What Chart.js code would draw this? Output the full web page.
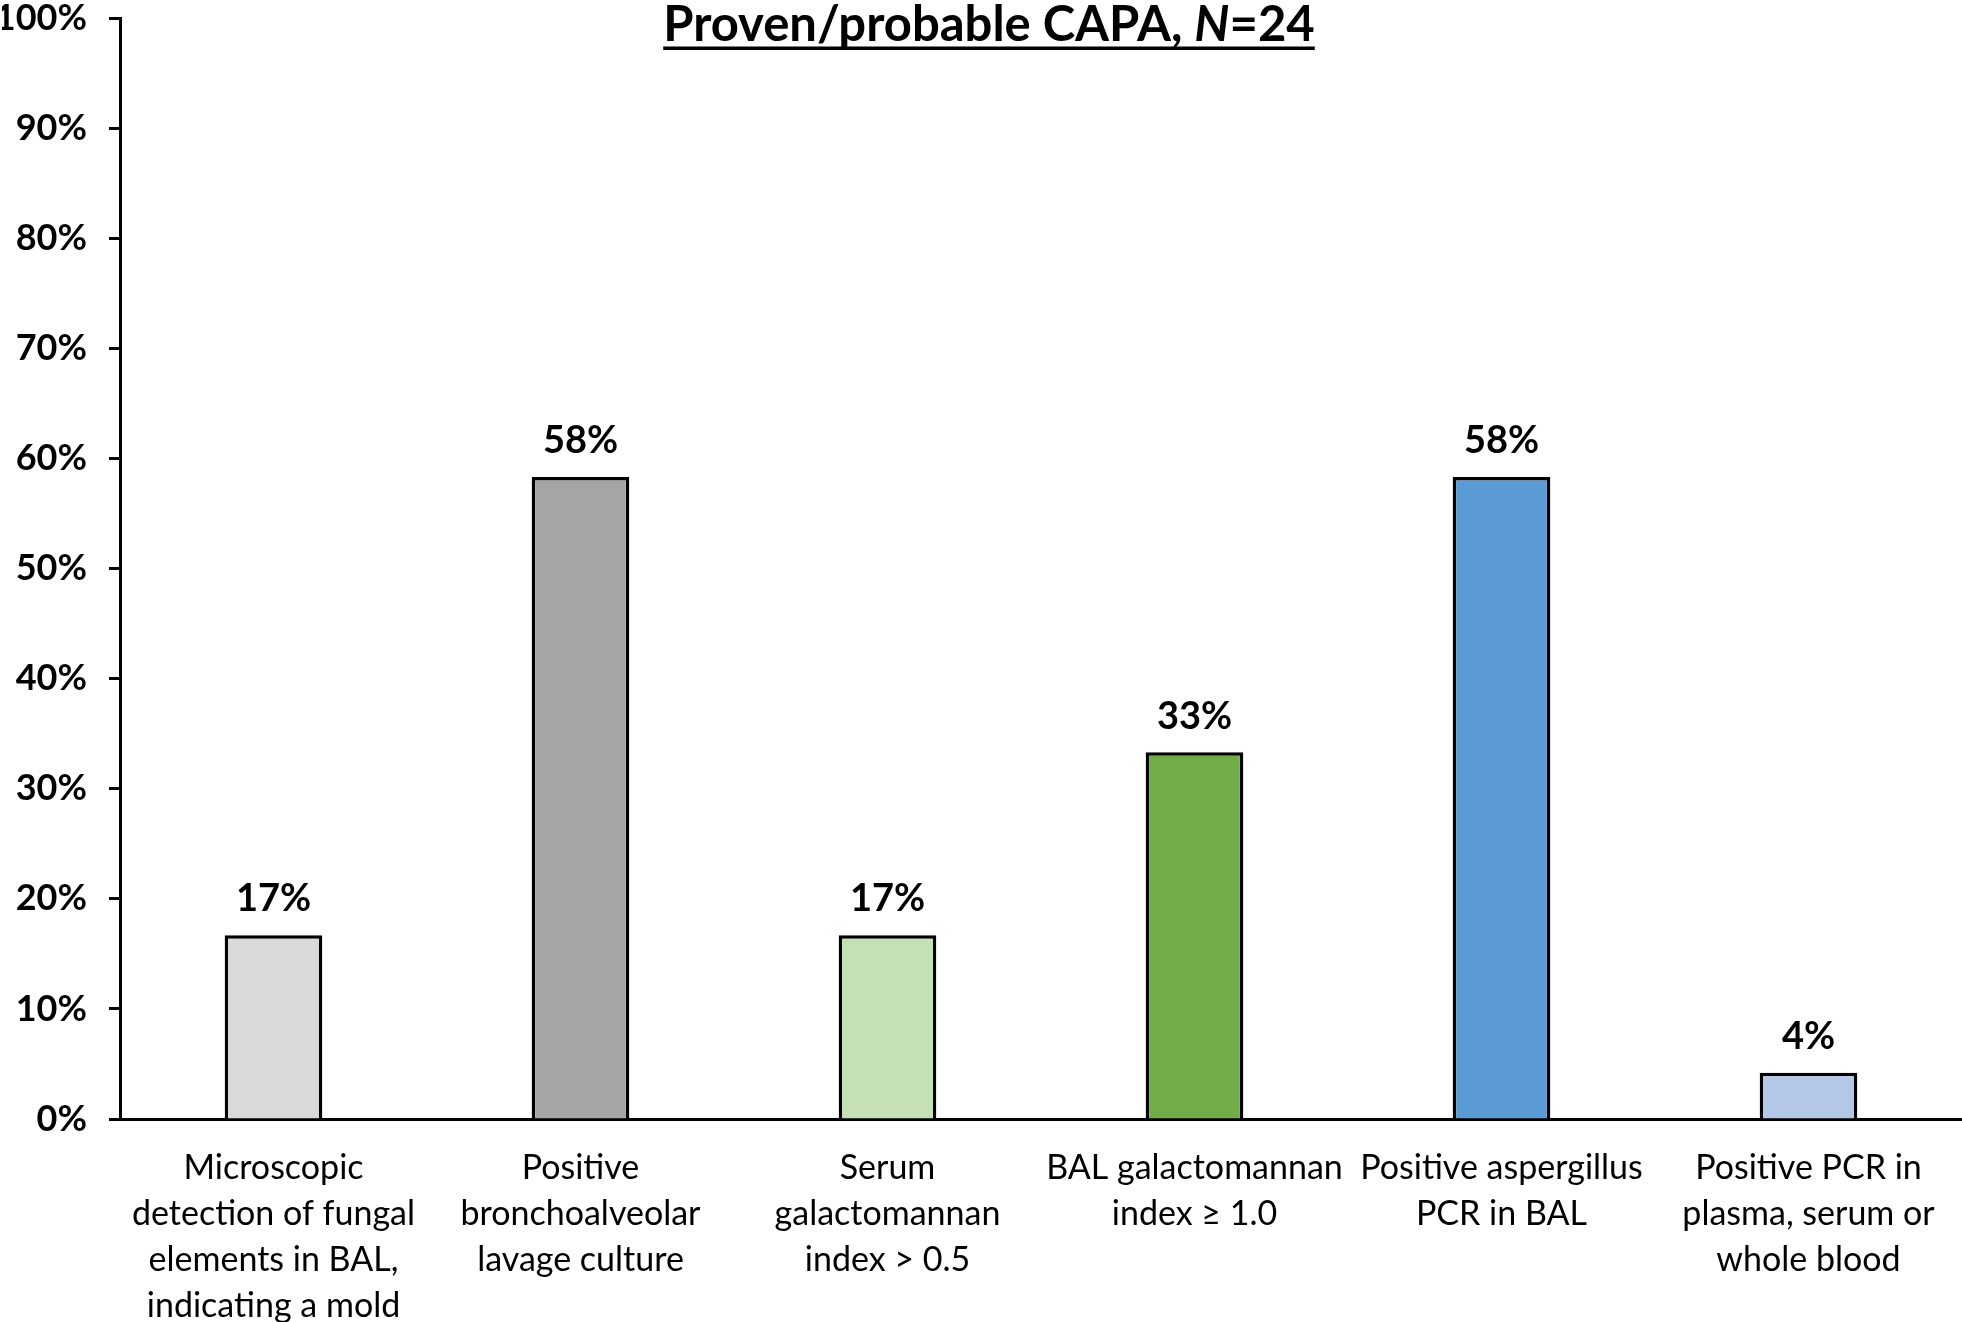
<!DOCTYPE html>
<html>
<head>
<meta charset="utf-8">
<script src="https://cdn.jsdelivr.net/npm/chart.js@4.4.1/dist/chart.umd.min.js"></script>
<style>
	html, body { margin: 0; padding: 0; background: #fff; }
	#wrap { width: 1962px; height: 1322px; }
</style>
</head>
<body>
<div id="wrap"><canvas id="chart"></canvas></div>
<script>
const categories = [
	["Microscopic", "detection of fungal", "elements in BAL,", "indicating a mold"],
	["Positive", "bronchoalveolar", "lavage culture"],
	["Serum", "galactomannan", "index > 0.5"],
	["BAL galactomannan", "index \u2265 1.0"],
	["Positive aspergillus", "PCR in BAL"],
	["Positive PCR in", "plasma, serum or", "whole blood"],
];
const values = [16.7, 58.3, 16.7, 33.3, 58.3, 4.2];
const valueLabels = ["17%", "58%", "17%", "33%", "58%", "4%"];
const barColors = ["#D9D9D9", "#A5A5A5", "#C5E0B4", "#70AD47", "#5B9BD5", "#B4C7E7"];
const yMin = 0;
const yMax = 100;
const yStep = 10;

const FONT = "Lato, 'Open Sans', sans-serif";

// value labels over each bar
const barLabels = {
	id: "barLabels",
	afterDatasetsDraw(chart) {
		const ctx = chart.ctx;
		const meta = chart.getDatasetMeta(0);
		ctx.save();
		ctx.font = `bold 38px ${FONT}`;
		ctx.fillStyle = "#000";
		ctx.textAlign = "center";
		ctx.textBaseline = "middle";
		meta.data.forEach((bar, i) => {
			ctx.fillText(valueLabels[i], bar.x, bar.y - 36);
		});
		ctx.restore();
	},
};

// underlined title with italic N
const titlePlugin = {
	id: "titlePlugin",
	afterDraw(chart) {
		const ctx = chart.ctx;
		const parts = [
			{ text: "Proven/probable CAPA, ", font: `bold 49px ${FONT}` },
			{ text: "N", font: `italic bold 49px ${FONT}` },
			{ text: "=24", font: `bold 49px ${FONT}` },
		];
		ctx.save();
		let total = 0;
		parts.forEach((p) => {
			ctx.font = p.font;
			p.w = ctx.measureText(p.text).width;
			total += p.w;
		});
		const cx = 989;
		const y = 25;
		let x = cx - total / 2;
		ctx.fillStyle = "#000";
		ctx.textBaseline = "middle";
		ctx.textAlign = "left";
		const x0 = x;
		parts.forEach((p) => {
			ctx.font = p.font;
			ctx.fillText(p.text, x, y);
			x += p.w;
		});
		ctx.fillRect(x0, 46.5, total, 3.5);
		ctx.restore();
	},
};

new Chart(document.getElementById("chart"), {
	type: "bar",
	data: {
		labels: categories,
		datasets: [
			{
				data: values,
				backgroundColor: barColors,
				borderColor: "#000",
				borderWidth: 3.5,
				barPercentage: 0.318,
				categoryPercentage: 1,
			},
		],
	},
	options: {
		responsive: true,
		maintainAspectRatio: false,
		animation: false,
		layout: { padding: { top: 18, right: 0, left: 2, bottom: 0 } },
		plugins: {
			legend: { display: false },
			tooltip: { enabled: false },
		},
		scales: {
			x: {
				afterFit: (s) => {
					s.height = 203;
					s.paddingLeft = 0;
					s.paddingRight = 0;
				},
				grid: { drawOnChartArea: false, drawTicks: false },
				border: { color: "#000", width: 3 },
				ticks: {
					color: "#000",
					padding: 26,
					maxRotation: 0,
					autoSkip: false,
					font: { family: FONT, size: 34, lineHeight: 1.35 },
				},
			},
			y: {
				min: yMin,
				max: yMax,
				afterFit: (s) => {
					s.width = 118;
					s.paddingTop = 0;
					s.paddingBottom = 0;
				},
				grid: {
					drawOnChartArea: false,
					drawTicks: true,
					tickLength: 11,
					tickWidth: 3,
					tickColor: "#000",
				},
				border: { color: "#000", width: 3 },
				ticks: {
					stepSize: yStep,
					color: "#000",
					padding: 22,
					font: { family: FONT, size: 36, weight: "bold" },
					callback: (v) => v + "%",
				},
			},
		},
	},
	plugins: [barLabels, titlePlugin],
});
</script>
</body>
</html>
